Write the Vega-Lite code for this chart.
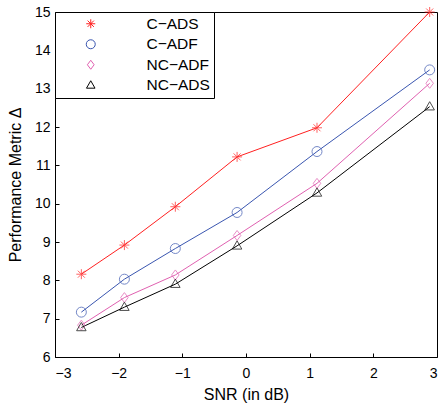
{
  "$schema": "https://vega.github.io/schema/vega-lite/v6.json",
  "autosize": "none",
  "width": 382,
  "height": 345,
  "padding": {"left": 55, "top": 12, "right": 4, "bottom": 47},
  "background": "white",
  "config": {
    "view": {"stroke": "black", "strokeWidth": 1},
    "font": "Liberation Sans",
    "axis": {
      "grid": false,
      "domain": false,
      "tickColor": "black",
      "tickWidth": 1,
      "tickSize": -4,
      "labelFont": "Liberation Sans",
      "labelFontSize": 14,
      "labelColor": "black",
      "titleFont": "Liberation Sans",
      "titleFontSize": 16,
      "titleFontWeight": "normal",
      "titleColor": "black"
    },
    "legend": {
      "orient": "top-left", "offset": 0, "title": null,
      "fillColor": "white", "strokeColor": "black", "padding": 4, "cornerRadius": 0,
      "labelFont": "Liberation Sans", "labelFontSize": 15.5, "labelColor": "black",
      "symbolSize": 81, "symbolStrokeWidth": 1, "rowPadding": 3.5,
      "symbolOffset": 24, "labelOffset": 48
    }
  },
  "data": {
    "values": [
      {"series": "C−ADS", "snr": -2.586, "value": 8.16},
      {"series": "C−ADS", "snr": -1.91, "value": 8.92},
      {"series": "C−ADS", "snr": -1.11, "value": 9.92},
      {"series": "C−ADS", "snr": -0.14, "value": 11.22},
      {"series": "C−ADS", "snr": 1.115, "value": 11.98},
      {"series": "C−ADS", "snr": 2.885, "value": 15.0},
      {"series": "C−ADF", "snr": -2.586, "value": 7.17},
      {"series": "C−ADF", "snr": -1.91, "value": 8.03},
      {"series": "C−ADF", "snr": -1.11, "value": 8.83},
      {"series": "C−ADF", "snr": -0.14, "value": 9.77},
      {"series": "C−ADF", "snr": 1.115, "value": 11.36},
      {"series": "C−ADF", "snr": 2.885, "value": 13.49},
      {"series": "NC−ADF", "snr": -2.586, "value": 6.83},
      {"series": "NC−ADF", "snr": -1.91, "value": 7.55},
      {"series": "NC−ADF", "snr": -1.11, "value": 8.14},
      {"series": "NC−ADF", "snr": -0.14, "value": 9.17},
      {"series": "NC−ADF", "snr": 1.115, "value": 10.53},
      {"series": "NC−ADF", "snr": 2.885, "value": 13.14},
      {"series": "NC−ADS", "snr": -2.586, "value": 6.77},
      {"series": "NC−ADS", "snr": -1.91, "value": 7.3},
      {"series": "NC−ADS", "snr": -1.11, "value": 7.9},
      {"series": "NC−ADS", "snr": -0.14, "value": 8.9},
      {"series": "NC−ADS", "snr": 1.115, "value": 10.28},
      {"series": "NC−ADS", "snr": 2.885, "value": 12.53}
    ]
  },
  "encoding": {
    "x": {
      "field": "snr", "type": "quantitative",
      "scale": {"domain": [-3, 3], "nice": false, "zero": false},
      "axis": {"orient": "bottom", "values": [-3, -2, -1, 0, 1, 2, 3], "title": "SNR (in dB)", "labelPadding": 13, "titlePadding": 6}
    },
    "y": {
      "field": "value", "type": "quantitative",
      "scale": {"domain": [6, 15], "nice": false, "zero": false},
      "axis": {"orient": "left", "values": [6, 7, 8, 9, 10, 11, 12, 13, 14, 15], "title": "Performance Metric Δ", "labelPadding": 9, "titlePadding": 11}
    },
    "color": {
      "field": "series", "type": "nominal",
      "scale": {"domain": ["C−ADS", "C−ADF", "NC−ADF", "NC−ADS"], "range": ["#ff2020", "#3a56b0", "#e060b0", "#000000"]},
      "legend": {
        "title": null,
        "encode": {
          "symbols": {"update": {
            "fill": {"value": "transparent"}
          }}
        }
      }
    }
  },
  "layer": [
    {
      "mark": {"type": "line", "strokeWidth": 1},
      "encoding": {
        "order": {"field": "snr", "type": "quantitative"}
      }
    },
    {
      "mark": {"type": "point", "filled": false, "strokeWidth": 1, "size": 100},
      "encoding": {
        "shape": {
          "field": "series", "type": "nominal",
          "scale": {"domain": ["C−ADS", "C−ADF", "NC−ADF", "NC−ADS"], "range": [
            "M-1,0H1M0,-1V1M-0.7,-0.7L0.7,0.7M-0.7,0.7L0.7,-0.7",
            "M1,0A1,1 0 1 1 -1,0A1,1 0 1 1 1,0Z",
            "M0,-1L0.75,0L0,1L-0.75,0Z",
            "M0,-1L0.95,0.65L-0.95,0.65Z"
          ]},
          "legend": null
        }
      }
    }
  ]
}
